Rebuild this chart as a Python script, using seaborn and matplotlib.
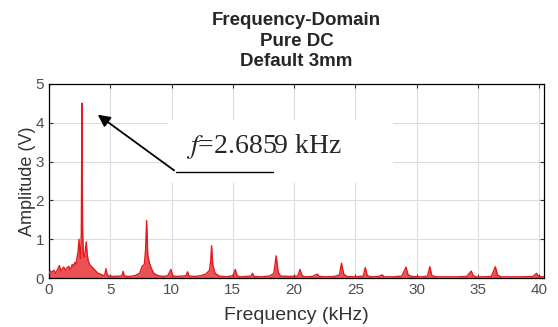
import numpy as np
import matplotlib
matplotlib.use('Agg')
import matplotlib.pyplot as plt
import seaborn as sns
from matplotlib.patches import Rectangle

# spectrum (kHz, V)
freq_khz = [0.0, 0.1, 0.25, 0.4, 0.55, 0.7, 0.85, 0.95, 1.05, 1.2, 1.35, 1.45, 1.6, 1.75, 1.9,
            2.0, 2.1, 2.2, 2.3, 2.38, 2.45, 2.52, 2.58, 2.64, 2.69, 2.74, 2.8, 2.88, 2.96, 3.04,
            3.12, 3.2, 3.3, 3.45, 3.6, 3.8, 4.0, 4.2, 4.45, 4.55, 4.65, 4.75, 4.9, 5.3, 5.8,
            5.95, 6.05, 6.15, 6.6, 7.0, 7.4, 7.6, 7.78, 7.88, 7.97, 8.06, 8.2, 8.35, 8.55, 8.9,
            9.3, 9.7, 9.95, 10.1, 10.4, 10.9, 11.2, 11.3, 11.45, 11.9, 12.4, 12.8, 13.1, 13.2,
            13.27, 13.36, 13.55, 13.9, 14.5, 15.0, 15.2, 15.35, 15.6, 16.1, 16.5, 16.6, 16.75, 17.3,
            18.0, 18.35, 18.54, 18.7, 18.9, 19.6, 20.3, 20.49, 20.65, 20.9, 21.5, 21.9, 22.05, 22.6,
            23.3, 23.7, 23.87, 24.05, 24.3, 25.0, 25.65, 25.81, 25.97, 26.3, 26.9, 27.2, 27.35, 28.1,
            28.8, 29.14, 29.3, 29.6, 30.4, 30.9, 31.08, 31.25, 31.6, 32.4, 33.3, 34.1, 34.46, 34.62,
            34.85, 35.5, 36.1, 36.43, 36.6, 36.9, 37.7, 38.6, 39.5, 39.8, 39.95, 40.4]
amp_v = [0.12, 0.18, 0.15, 0.2, 0.12, 0.22, 0.32, 0.18, 0.22, 0.28, 0.2, 0.25, 0.3, 0.22, 0.35,
         0.3, 0.4, 0.35, 0.55, 0.7, 1.0, 0.65, 0.5, 1.2, 4.5, 1.3, 0.6, 0.55, 0.7, 0.93,
         0.6, 0.45, 0.35, 0.3, 0.25, 0.18, 0.12, 0.1, 0.06, 0.08, 0.24, 0.08, 0.05, 0.04, 0.05,
         0.06, 0.17, 0.05, 0.04, 0.06, 0.12, 0.3, 0.35, 0.7, 1.48, 0.6, 0.38, 0.25, 0.12, 0.06,
         0.04, 0.06, 0.22, 0.06, 0.04, 0.05, 0.06, 0.16, 0.05, 0.04, 0.06, 0.1, 0.2, 0.45,
         0.83, 0.35, 0.12, 0.05, 0.03, 0.06, 0.22, 0.06, 0.03, 0.04, 0.05, 0.12, 0.04, 0.03,
         0.05, 0.12, 0.57, 0.15, 0.05, 0.04, 0.05, 0.22, 0.06, 0.03, 0.04, 0.1, 0.04, 0.03,
         0.04, 0.08, 0.38, 0.1, 0.04, 0.03, 0.05, 0.27, 0.06, 0.03, 0.04, 0.08, 0.03, 0.03,
         0.05, 0.28, 0.08, 0.04, 0.03, 0.05, 0.29, 0.06, 0.03, 0.03, 0.03, 0.04, 0.18, 0.06,
         0.03, 0.03, 0.04, 0.29, 0.08, 0.03, 0.03, 0.03, 0.04, 0.12, 0.04, 0.03]

x_ticks = [0, 5, 10, 15, 20, 25, 30, 35, 40]
y_ticks = [0, 1, 2, 3, 4, 5]
peak_label = '$f$=2.6859 kHz'

sns.set_style('whitegrid')
plt.rcParams['font.family'] = ['Liberation Sans', 'DejaVu Sans']
plt.rcParams['mathtext.fontset'] = 'stix'

fig, ax = plt.subplots(figsize=(5.58, 3.27), dpi=100)
fig.subplots_adjust(left=49/558, right=544/558, top=1-84/327, bottom=1-278/327)

ax.fill_between(freq_khz, amp_v, color='#e8262b', alpha=0.8, lw=0, zorder=2)
sns.lineplot(x=freq_khz, y=amp_v, color='#e41a1c', lw=1.0, ax=ax, zorder=3)

ax.set_xlim(0, 40.4)
ax.set_ylim(0, 5)
ax.set_xticks(x_ticks)
ax.set_yticks(y_ticks)
ax.grid(True, color='#dcdcdc', lw=0.8)
for s in ax.spines.values():
    s.set_color('black')
    s.set_linewidth(0.9)
ax.tick_params(direction='in', length=3, top=True, right=True, bottom=True, left=True,
               labelsize=11, labelcolor='#4d4d4d', color='#333333', pad=3.5)

ax.set_xlabel('Frequency (kHz)', fontsize=14, color='#333333', labelpad=7)
ax.set_ylabel('Amplitude (V)', fontsize=13, color='#333333', labelpad=0)
ax.set_title('Frequency-Domain\nPure DC\nDefault 3mm', fontsize=13.5, fontweight='bold',
             linespacing=1.25, pad=13)

# white box behind the label
ax.add_patch(Rectangle((9.7, 2.45), 18.4, 1.62, facecolor='white', edgecolor='none', zorder=4))
ax.plot([10.4, 18.3], [2.73, 2.73], color='black', lw=1.0, zorder=5)
ax.annotate('', xy=(3.8, 4.25), xytext=(10.4, 2.73),
            arrowprops=dict(arrowstyle='-|>', color='black', lw=1.3, mutation_scale=18),
            zorder=5)
ax.text(11.2, 3.4, peak_label, fontsize=20, family='Liberation Serif',
        ha='left', va='center', zorder=6)

fig.savefig('out.png', dpi=100)
